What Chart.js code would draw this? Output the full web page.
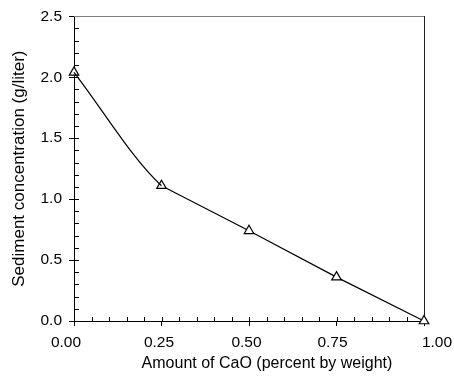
<!DOCTYPE html>
<html><head><meta charset="utf-8">
<style>html,body{margin:0;padding:0;background:#fff;overflow:hidden}#wrap{width:454px;height:383px;position:relative}</style>
<script src="https://cdn.jsdelivr.net/npm/chart.js@4"></script>
</head><body><div id="wrap"><canvas id="c" width="454" height="383"></canvas></div>
<script>
const cao = [0.00, 0.25, 0.50, 0.75, 1.00];
const sediment = [2.04, 1.11, 0.74, 0.36, 0.00];
const xTicks = [0.00, 0.25, 0.50, 0.75, 1.00];
const xTickLabels = ['0.00', '0.25', '0.50', '0.75', '1.00'];
const yTicks = [0.0, 0.5, 1.0, 1.5, 2.0, 2.5];
const yTickLabels = ['0.0', '0.5', '1.0', '1.5', '2.0', '2.5'];
const xMinorStep = 0.05;
const yMinorStep = 0.1;
const xTitle = 'Amount of CaO (percent by weight)';
const yTitle = 'Sediment concentration (g/liter)';

const FONT = "Arial, 'Liberation Sans', Helvetica, sans-serif";
const points = cao.map((v, i) => ({x: v, y: sediment[i]}));

const framePlugin = {
  id: 'frame',
  beforeDatasetsDraw(chart) {
    const {ctx, chartArea: {left, right, top, bottom}, scales: {x, y}} = chart;
    ctx.save();
    ctx.lineWidth = 1;
    ctx.strokeStyle = '#808080';
    ctx.beginPath();
    ctx.moveTo(Math.round(left), Math.round(top) + 0.5);
    ctx.lineTo(Math.round(right) + 1, Math.round(top) + 0.5);
    ctx.stroke();
    ctx.strokeStyle = '#222';
    ctx.beginPath();
    ctx.moveTo(Math.round(right) + 0.5, Math.round(top));
    ctx.lineTo(Math.round(right) + 0.5, Math.round(bottom));
    ctx.stroke();
    ctx.strokeStyle = '#000';
    const nx = Math.round((x.max - x.min) / xMinorStep);
    for (let i = 1; i < nx; i++) {
      const px = Math.round(x.getPixelForValue(x.min + i * xMinorStep)) + 0.5;
      ctx.beginPath();
      ctx.moveTo(px, Math.round(bottom));
      ctx.lineTo(px, Math.round(bottom) - 4);
      ctx.stroke();
    }
    const ny = Math.round((y.max - y.min) / yMinorStep);
    for (let i = 1; i < ny; i++) {
      const py = Math.round(y.getPixelForValue(y.min + i * yMinorStep)) + 0.5;
      ctx.beginPath();
      ctx.moveTo(Math.round(left) + 1, py);
      ctx.lineTo(Math.round(left) + 5, py);
      ctx.stroke();
    }
    ctx.restore();
  },
  afterDraw(chart) {
    const {ctx, scales: {x}} = chart;
    const shift = [-8, -2.5, -2.5, -4, 13];
    ctx.save();
    ctx.fillStyle = '#000';
    ctx.font = '15.5px ' + FONT;
    ctx.textAlign = 'center';
    ctx.textBaseline = 'alphabetic';
    xTicks.forEach((v, i) => {
      ctx.fillText(xTickLabels[i], x.getPixelForValue(v) + shift[i], 347);
    });
    ctx.font = '16px ' + FONT;
    ctx.fillText(xTitle, 267, 367.5);
    ctx.restore();
  }
};

new Chart(document.getElementById('c'), {
  type: 'scatter',
  data: {
    datasets: [{
      // smooth first segment
      data: points,
      showLine: true,
      borderColor: '#000',
      borderWidth: 1.2,
      cubicInterpolationMode: 'monotone',
      segment: {borderColor: c => c.p0DataIndex >= 1 ? 'rgba(0,0,0,0)' : '#000'},
      pointRadius: 0,
      clip: false
    }, {
      // straight remaining segments + markers
      data: points,
      showLine: true,
      borderColor: '#000',
      borderWidth: 1.2,
      tension: 0,
      segment: {borderColor: c => c.p0DataIndex === 0 ? 'rgba(0,0,0,0)' : '#000'},
      pointStyle: 'triangle',
      pointRadius: 5.5,
      pointBackgroundColor: '#fff',
      pointBorderColor: '#000',
      pointBorderWidth: 1.2,
      clip: false
    }]
  },
  options: {
    responsive: false,
    animation: false,
    devicePixelRatio: 1,
    layout: {padding: {top: 12, right: 30, bottom: 0, left: 0}},
    plugins: {legend: {display: false}, tooltip: {enabled: false}},
    scales: {
      x: {
        type: 'linear', min: 0, max: 1,
        afterBuildTicks: s => { s.ticks = xTicks.map(v => ({value: v})); },
        ticks: {display: false},
        grid: {drawOnChartArea: false, drawTicks: true, tickLength: 5, color: '#000', lineWidth: 1},
        border: {color: '#000', width: 1},
        afterFit: s => { s.height = 62; }
      },
      y: {
        type: 'linear', min: 0, max: 2.5,
        afterBuildTicks: s => { s.ticks = yTicks.map(v => ({value: v})); },
        ticks: {
          callback: v => yTickLabels[yTicks.indexOf(v)],
          font: {family: FONT, size: 15.5}, color: '#000', padding: 7
        },
        grid: {drawOnChartArea: false, drawTicks: true, tickLength: 5, color: '#000', lineWidth: 1},
        border: {color: '#000', width: 1},
        title: {display: true, text: yTitle, font: {family: FONT, size: 17}, color: '#000', padding: {top: 9, bottom: 0}},
        afterFit: s => { s.width = 74; }
      }
    }
  },
  plugins: [framePlugin]
});
</script>
</body></html>
